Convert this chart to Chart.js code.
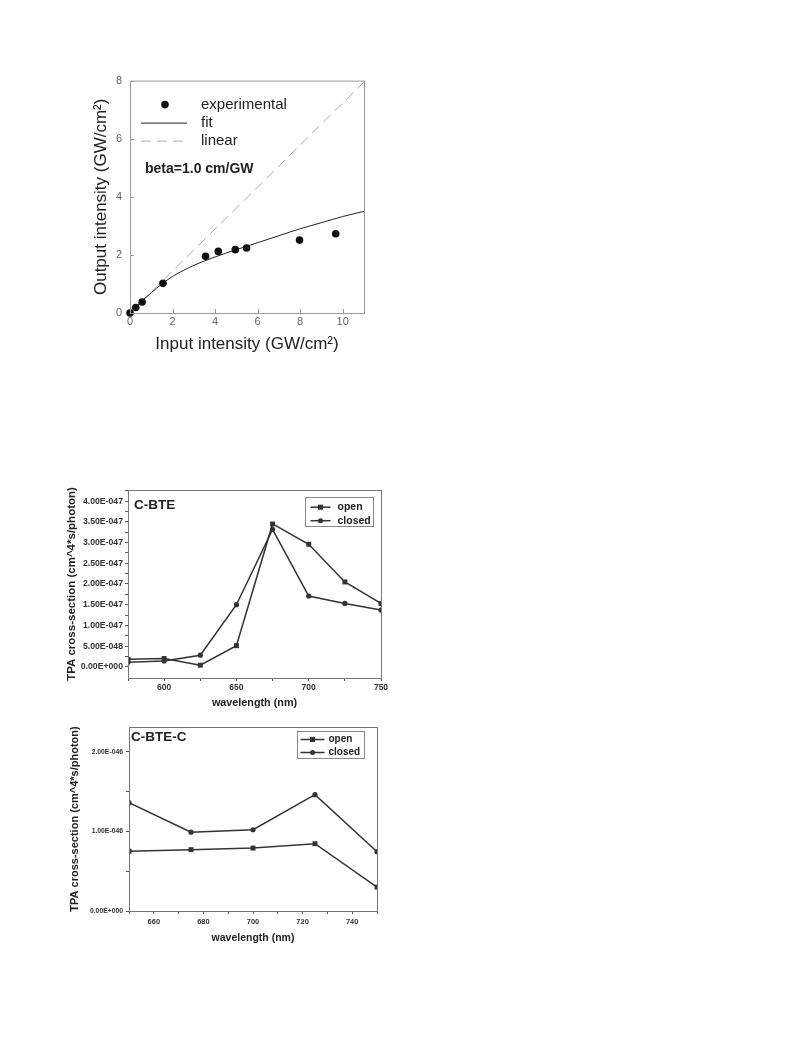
<!DOCTYPE html>
<html>
<head>
<meta charset="utf-8">
<script src="https://cdn.jsdelivr.net/npm/chart.js@4.4.0/dist/chart.umd.min.js"></script>
<style>
  body { margin: 0; background: #fff; width: 793px; height: 1055px; position: relative; overflow: hidden; }
  canvas { position: absolute; }
</style>
</head>
<body>
<canvas id="c1" width="290" height="300" style="left:85px;top:66px"></canvas>
<canvas id="c2" width="331" height="232" style="left:62px;top:480px"></canvas>
<canvas id="c3" width="327" height="230" style="left:62px;top:717px"></canvas>
<script>
// ---- chart 1 : output vs input intensity ----
var inputI  = [0, 0.27, 0.57, 1.55, 3.55, 4.15, 4.95, 5.48, 7.97, 9.67];
var outputI = [0, 0.19, 0.38, 1.02, 1.95, 2.12, 2.18, 2.24, 2.51, 2.73];
var fitX = [0, 0.5, 1, 1.5, 2, 3, 4, 5, 6, 7, 8, 9, 10, 11];
var fitY = [0, 0.36, 0.7, 1.0, 1.26, 1.64, 1.93, 2.18, 2.42, 2.66, 2.9, 3.11, 3.32, 3.5];
var linX = [0, 11];
var linY = [0, 7.95];
var xTicks1 = [0, 2, 4, 6, 8, 10];
var yTicks1 = [0, 2, 4, 6, 8];

// ---- chart 2 : C-BTE (values in units of 1e-47) ----
var SCALE = 1e-47;
var wl2 = [575, 600, 625, 650, 675, 700, 725, 750];
var open2   = [0.18, 0.20, 0.04, 0.51, 3.45, 2.96, 2.05, 1.53];
var closed2 = [0.11, 0.14, 0.28, 1.50, 3.32, 1.71, 1.53, 1.37];
var xTicks2 = [575, 600, 625, 650, 675, 700, 725, 750];
var yTicks2 = [0, 0.25, 0.5, 0.75, 1, 1.25, 1.5, 1.75, 2, 2.25, 2.5, 2.75, 3, 3.25, 3.5, 3.75, 4, 4.25];

// ---- chart 3 : C-BTE-C (values in units of 1e-47) ----
var wl3 = [650, 675, 700, 725, 750];
var open3   = [7.5, 7.7, 7.9, 8.45, 3.0];
var closed3 = [13.6, 9.9, 10.2, 14.6, 7.45];
var xTicks3 = [650, 660, 670, 680, 690, 700, 710, 720, 730, 740, 750];
var yTicks3 = [0, 5, 10, 15, 20];

function pts(xs, ys) { return xs.map(function (x, i) { return {x: x, y: ys[i]}; }); }
function setTicks(list) { return function (s) { s.ticks = list.map(function (v) { return {value: v}; }); }; }
function sci(v) {
  if (Math.abs(v) < 1e-9) return '0.00E+000';
  var p = (v * SCALE).toExponential(2).split('e');
  var n = parseInt(p[1], 10);
  return p[0] + 'E' + (n < 0 ? '-' : '+') + String(Math.abs(n)).padStart(3, '0');
}

var FONT = "'Liberation Sans', Arial, sans-serif";

// chart 1
var deco1 = {
  id: 'deco1',
  afterDraw: function (chart) {
    var ctx = chart.ctx, a = chart.chartArea, xs = chart.scales.x, ys = chart.scales.y;
    ctx.save();
    ctx.strokeStyle = '#999'; ctx.lineWidth = 1;
    ctx.strokeRect(a.left + 0.5, a.top + 0.5, a.right - a.left, a.bottom - a.top);
    ctx.beginPath();
    xTicks1.forEach(function (v) { var px = Math.round(xs.getPixelForValue(v)) + 0.5; ctx.moveTo(px, a.bottom); ctx.lineTo(px, a.bottom - 4); });
    yTicks1.forEach(function (v) { var py = Math.round(ys.getPixelForValue(v)) + 0.5; ctx.moveTo(a.left, py); ctx.lineTo(a.left + 4, py); });
    ctx.stroke();
    // legend
    ctx.fillStyle = '#111';
    ctx.beginPath(); ctx.arc(a.left + 35, a.top + 24, 3.8, 0, Math.PI * 2); ctx.fill();
    ctx.strokeStyle = '#222'; ctx.beginPath(); ctx.moveTo(a.left + 11, a.top + 42.5); ctx.lineTo(a.left + 57, a.top + 42.5); ctx.stroke();
    ctx.strokeStyle = '#aaa'; ctx.setLineDash([10, 6]); ctx.beginPath(); ctx.moveTo(a.left + 11, a.top + 60.5); ctx.lineTo(a.left + 57, a.top + 60.5); ctx.stroke();
    ctx.setLineDash([]);
    ctx.fillStyle = '#222'; ctx.textBaseline = 'middle'; ctx.textAlign = 'left';
    ctx.font = '15px ' + FONT;
    ctx.fillText('experimental', a.left + 71, a.top + 24);
    ctx.fillText('fit', a.left + 71, a.top + 42);
    ctx.fillText('linear', a.left + 71, a.top + 60);
    ctx.font = 'bold 14px ' + FONT;
    ctx.fillText('beta=1.0 cm/GW', a.left + 15, a.top + 89);
    ctx.restore();
  }
};

new Chart(document.getElementById('c1'), {
  type: 'scatter',
  data: {
    datasets: [
      {label: 'experimental', data: pts(inputI, outputI), pointRadius: 3.8, pointBackgroundColor: '#111', pointBorderWidth: 0, clip: false},
      {label: 'fit', data: pts(fitX, fitY), showLine: true, pointRadius: 0, borderColor: '#222', borderWidth: 1, cubicInterpolationMode: 'monotone'},
      {label: 'linear', data: pts(linX, linY), showLine: true, pointRadius: 0, borderColor: '#aaa', borderWidth: 1, borderDash: [10, 6]}
    ]
  },
  options: {
    responsive: false, animation: false,
    layout: {padding: {top: 12, right: 11, left: 0, bottom: 0}},
    plugins: {legend: {display: false}, tooltip: {enabled: false}},
    scales: {
      x: {
        type: 'linear', min: 0, max: 11,
        afterBuildTicks: setTicks(xTicks1),
        afterFit: function (s) { s.height = 53; },
        grid: {display: false, drawTicks: false}, border: {display: false},
        ticks: {color: '#666', font: {family: FONT, size: 11}, padding: 2},
        title: {display: true, text: 'Input intensity (GW/cm²)', color: '#222', font: {family: FONT, size: 17}, padding: {top: 0, bottom: 11}}
      },
      y: {
        min: 0, max: 8,
        afterBuildTicks: setTicks(yTicks1),
        afterFit: function (s) { s.width = 45; },
        grid: {display: false, drawTicks: false}, border: {display: false},
        ticks: {color: '#666', font: {family: FONT, size: 11}, padding: 8},
        title: {display: true, text: 'Output intensity (GW/cm²)', color: '#222', font: {family: FONT, size: 17}, padding: {top: 6, bottom: 0}}
      }
    }
  },
  plugins: [deco1]
});

// charts 2 and 3
function decoTPA(name, nameDx, nameDy, lg) {
  return {
    id: 'deco' + name,
    afterDraw: function (chart) {
      var ctx = chart.ctx, a = chart.chartArea;
      ctx.save();
      ctx.strokeStyle = '#777'; ctx.lineWidth = 1;
      ctx.strokeRect(Math.round(a.left) + 0.5, Math.round(a.top) + 0.5, Math.round(a.right - a.left), Math.round(a.bottom - a.top));
      ctx.fillStyle = '#222'; ctx.textBaseline = 'middle'; ctx.textAlign = 'left';
      ctx.font = 'bold 13.5px ' + FONT;
      ctx.fillText(name, a.left + nameDx, a.top + nameDy);
      // legend box
      var bx = Math.round(a.right - lg.dr - lg.w) + 0.5, by = Math.round(a.top + lg.dt) + 0.5;
      ctx.strokeStyle = '#888';
      ctx.strokeRect(bx, by, lg.w, lg.h);
      ctx.font = 'bold ' + lg.fs + 'px ' + FONT;
      [['open', 'rect'], ['closed', 'circle']].forEach(function (e, i) {
        var ry = by + lg.rows[i];
        ctx.strokeStyle = '#333'; ctx.lineWidth = 1.5;
        ctx.beginPath(); ctx.moveTo(bx + lg.l1, ry); ctx.lineTo(bx + lg.l2, ry); ctx.stroke();
        var mx = bx + (lg.l1 + lg.l2) / 2;
        ctx.fillStyle = '#333';
        if (e[1] === 'rect') ctx.fillRect(mx - 2.5, ry - 2.5, 5, 5);
        else { ctx.beginPath(); ctx.arc(mx, ry, 2.5, 0, Math.PI * 2); ctx.fill(); }
        ctx.fillStyle = '#222';
        ctx.fillText(e[0], bx + lg.tx, ry);
      });
      ctx.restore();
    }
  };
}

function tpaChart(id, xs, open, closed, cfg) {
  return new Chart(document.getElementById(id), {
    type: 'line',
    data: {
      datasets: [
        {label: 'open', data: pts(xs, open), borderColor: '#333', borderWidth: 1.5, pointStyle: 'rect', pointRadius: 3.5, pointBackgroundColor: '#333', pointBorderWidth: 0, tension: 0},
        {label: 'closed', data: pts(xs, closed), borderColor: '#333', borderWidth: 1.5, pointStyle: 'circle', pointRadius: 2.6, pointBackgroundColor: '#333', pointBorderWidth: 0, tension: 0}
      ]
    },
    options: {
      responsive: false, animation: false,
      layout: {padding: {top: 10, right: 12, left: 0, bottom: 0}},
      plugins: {legend: {display: false}, tooltip: {enabled: false}},
      scales: {
        x: {
          type: 'linear', min: cfg.xmin, max: cfg.xmax,
          afterBuildTicks: setTicks(cfg.xTicks),
          afterFit: function (s) { s.height = cfg.xh; },
          grid: {drawOnChartArea: false, drawTicks: true, tickLength: 3, color: '#555'}, border: {display: false},
          ticks: {autoSkip: false, maxRotation: 0, color: '#333', font: {family: FONT, size: cfg.xfs, weight: 'bold'}, padding: cfg.xpad,
            callback: function (v) { return v % cfg.xLab === 0 ? String(v) : ''; }},
          title: {display: true, text: 'wavelength (nm)', color: '#222', font: {family: FONT, size: cfg.xtfs, weight: 'bold'}, padding: {top: 0, bottom: cfg.xtpad}}
        },
        y: {
          min: cfg.ymin, max: cfg.ymax,
          afterBuildTicks: setTicks(cfg.yTicks),
          afterFit: function (s) { s.width = cfg.yw; },
          grid: {drawOnChartArea: false, drawTicks: true, tickLength: 3, color: '#555'}, border: {display: false},
          ticks: {autoSkip: false, color: '#333', font: {family: FONT, size: cfg.yfs, weight: 'bold'}, padding: cfg.ypad,
            callback: function (v) { return v % cfg.yLab === 0 ? sci(v) : ''; }},
          title: {display: true, text: 'TPA cross-section (cm^4*s/photon)', color: '#222', font: {family: FONT, size: cfg.ytfs, weight: 'bold'}, padding: {top: cfg.ytpad, bottom: 0}}
        }
      }
    },
    plugins: [cfg.deco]
  });
}

tpaChart('c2', wl2, open2, closed2, {
  xmin: 575, xmax: 750, xTicks: xTicks2, xLab: 50, xh: 34, xfs: 8.5, xpad: 2, xtfs: 10.8, xtpad: 2.5,
  ymin: -0.27, ymax: 4.27, yTicks: yTicks2, yLab: 0.5, yw: 66, yfs: 8.7, ypad: 2, ytfs: 11.5, ytpad: 3,
  deco: decoTPA('C-BTE', 6, 15, {dr: 8, dt: 7, w: 68, h: 29, rows: [9.7, 23.2], l1: 5, l2: 25, tx: 32, fs: 10.5})
});

tpaChart('c3', wl3, open3, closed3, {
  xmin: 650, xmax: 750, xTicks: xTicks3, xLab: 20, xh: 36, xfs: 7.5, xpad: 3.5, xtfs: 10.5, xtpad: 2.7,
  ymin: 0, ymax: 23.1, yTicks: yTicks3, yLab: 10, yw: 67, yfs: 6.8, ypad: 3, ytfs: 11, ytpad: 6,
  deco: decoTPA('C-BTE-C', 2, 10, {dr: 13.5, dt: 4.3, w: 67, h: 27, rows: [8, 21], l1: 3, l2: 27, tx: 31, fs: 10})
});
</script>
</body>
</html>
